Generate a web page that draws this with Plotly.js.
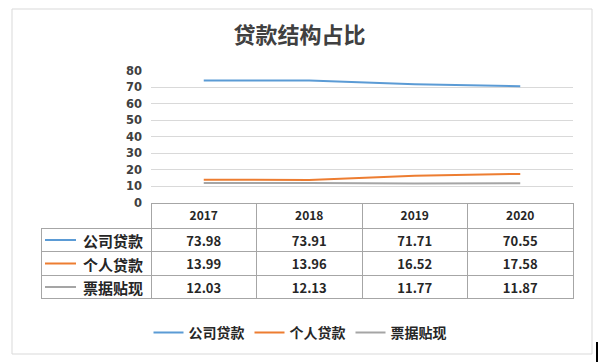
<!DOCTYPE html>
<html>
<head>
<meta charset="utf-8">
<script src="https://cdn.plot.ly/plotly-3.0.1.min.js"></script>
<style>html,body{margin:0;padding:0;background:#fff;}#chart{width:599px;height:362px;}</style>
</head>
<body>
<div id="chart"></div>
<script>
// ---- data ----
const years = ['2017', '2018', '2019', '2020'];
const seriesNames = ['公司贷款', '个人贷款', '票据贴现'];
const corporateLoans = [73.98, 73.91, 71.71, 70.55];
const personalLoans = [13.99, 13.96, 16.52, 17.58];
const billDiscount = [12.03, 12.13, 11.77, 11.87];
const yTicks = [0, 10, 20, 30, 40, 50, 60, 70, 80];

// ---- style ----
const W = 599, H = 362;
const colors = ['#5B9BD5', '#ED7D31', '#A5A5A5'];
const FONT = '"Noto Sans CJK SC", "Noto Sans", sans-serif';
const textColor = '#262626';
const px = v => v / W;
const py = v => 1 - v / H;

const seriesData = [corporateLoans, personalLoans, billDiscount];

const traces = seriesData.map((vals, i) => ({
  type: 'scatter',
  mode: 'lines',
  name: seriesNames[i],
  x: years,
  y: vals,
  line: {color: colors[i], width: 2},
  hoverinfo: 'skip',
  xaxis: 'x',
  yaxis: 'y'
}));

// table trace (values column-major)
const headerVals = [''].concat(years);
const cellCols = [seriesNames].concat(years.map((y, j) => seriesData.map(s => s[j])));
const lineGray = '#a6a6a6';
const clear = 'rgba(0,0,0,0)';
traces.push({
  type: 'table',
  domain: {x: [px(41), px(573.5)], y: [py(299.5), py(203)]},
  columnwidth: [110, 105.5, 105.5, 105.5, 105.5],
  header: {
    values: headerVals,
    height: 25,
    align: 'center',
    fill: {color: [clear, 'white', 'white', 'white', 'white']},
    line: {color: [clear, lineGray, lineGray, lineGray, lineGray], width: 1},
    font: {family: FONT, size: 12, color: textColor, weight: 'bold'}
  },
  cells: {
    values: cellCols,
    format: ['', '.2f', '.2f', '.2f', '.2f'],
    height: 23.5,
    align: ['right', 'center', 'center', 'center', 'center'],
    fill: {color: 'white'},
    line: {color: lineGray, width: 1},
    font: {family: FONT, size: [15, 13, 13, 13, 13], color: textColor, weight: 'bold'}
  },
  hoverinfo: 'skip'
});

// decorative legend keys inside the table row labels + outer chart border
const rowCenters = [240, 263.5, 287];
const shapes = [{
  type: 'rect', xref: 'paper', yref: 'paper',
  x0: px(12), x1: px(592), y0: py(9), y1: py(354),
  line: {color: '#d9d9d9', width: 1}, fillcolor: 'rgba(0,0,0,0)', layer: 'below'
}];
rowCenters.forEach((yc, i) => shapes.push({
  type: 'line', xref: 'paper', yref: 'paper',
  x0: px(45), x1: px(76), y0: py(yc), y1: py(yc),
  line: {color: colors[i], width: 2}
}));
shapes.push({
  type: 'line', xref: 'paper', yref: 'paper',
  x0: px(597), x1: px(597), y0: py(342), y1: py(362),
  line: {color: '#000', width: 2}
});

const layout = {
  width: W, height: H,
  margin: {l: 0, r: 0, t: 0, b: 0},
  paper_bgcolor: 'white',
  plot_bgcolor: 'white',
  font: {family: FONT, color: textColor},
  title: {
    text: '贷款结构占比',
    x: 0.5, xanchor: 'center', xref: 'paper',
    y: py(35), yanchor: 'middle', yref: 'paper',
    font: {family: FONT, size: 22, color: '#404040', weight: 'bold'}
  },
  xaxis: {
    type: 'category',
    domain: [px(151), px(573)],
    range: [-0.5, 3.5],
    showticklabels: false,
    showgrid: false,
    zeroline: false,
    showline: false,
    fixedrange: true
  },
  yaxis: {
    domain: [py(203), py(70.5)],
    range: [0, 80],
    tickvals: yTicks,
    ticks: '',
    showgrid: true,
    gridcolor: '#d9d9d9',
    gridwidth: 1,
    zeroline: false,
    showline: false,
    ticklabelstandoff: 8,
    tickfont: {family: '"DejaVu Sans", sans-serif', size: 11.5, color: '#404040', weight: 'bold'},
    fixedrange: true
  },
  showlegend: true,
  legend: {
    orientation: 'h',
    x: px(300), xanchor: 'center',
    y: py(333), yanchor: 'middle',
    font: {family: FONT, size: 14, color: textColor, weight: 'bold'},
    itemwidth: 30,
    tracegroupgap: 0,
    bgcolor: 'rgba(0,0,0,0)'
  },
  shapes: shapes
};

Plotly.newPlot('chart', traces, layout, {displayModeBar: false, staticPlot: true});
</script>
</body>
</html>
